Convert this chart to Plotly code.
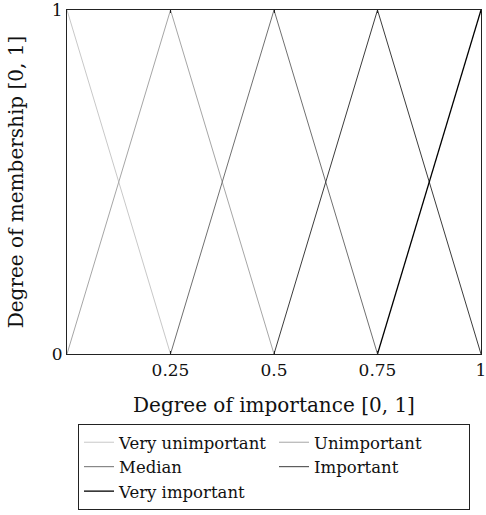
import plotly.graph_objects as go

# Triangular membership functions on the importance scale
names = ["Very unimportant", "Unimportant", "Median", "Important", "Very important"]
xs = [
    [0.0, 0.25],
    [0.0, 0.25, 0.5],
    [0.25, 0.5, 0.75],
    [0.5, 0.75, 1.0],
    [0.75, 1.0],
]
ys = [
    [1, 0],
    [0, 1, 0],
    [0, 1, 0],
    [0, 1, 0],
    [0, 1],
]
colors = ["#c8c8c8", "#a6a6a6", "#707070", "#3c3c3c", "#000000"]
widths = [1, 1, 1, 1, 1.3]

x_ticks = [0.25, 0.5, 0.75, 1]
x_tick_text = ["0.25", "0.5", "0.75", "1"]
y_ticks = [0, 1]
y_tick_text = ["0", "1"]

font_family = "DejaVu Serif, Liberation Serif, serif"

fig = go.Figure()
for n, x, y, c, w in zip(names, xs, ys, colors, widths):
    fig.add_trace(go.Scatter(x=x, y=y, mode="lines", name=n,
                             line=dict(color=c, width=w)))

fig.update_layout(
    width=486, height=515,
    margin=dict(l=67, r=5, t=10, b=161, autoexpand=False),
    plot_bgcolor="white", paper_bgcolor="white",
    font=dict(family=font_family, size=17, color="#111"),
    showlegend=True,
    legend=dict(
        orientation="h", xref="paper", yref="container",
        x=0.5, xanchor="center", y=1 - 424 / 515, yanchor="top",
        bordercolor="#222", borderwidth=1, bgcolor="white",
        font=dict(family=font_family, size=16.5, color="#111"),
        entrywidth=150, itemwidth=30, tracegroupgap=0,
    ),
)
fig.update_xaxes(
    range=[0, 1], tickvals=x_ticks, ticktext=x_tick_text,
    showgrid=False, zeroline=False,
    showline=True, linecolor="#222", linewidth=1.2, mirror="ticks",
    ticks="inside", ticklen=3, tickcolor="#222",
    ticklabeloverflow="allow",
    title=dict(text="Degree of importance [0, 1]", font=dict(size=20), standoff=19),
    tickfont=dict(size=17),
)
fig.update_yaxes(
    range=[0, 1], tickvals=y_ticks, ticktext=y_tick_text,
    showgrid=False, zeroline=False,
    showline=True, linecolor="#222", linewidth=1.2, mirror="ticks",
    ticks="inside", ticklen=3, tickcolor="#222",
    ticklabeloverflow="allow",
    title=dict(text="Degree of membership [0, 1]", font=dict(size=20), standoff=22),
    tickfont=dict(size=17),
)

fig.write_html("out.html")
